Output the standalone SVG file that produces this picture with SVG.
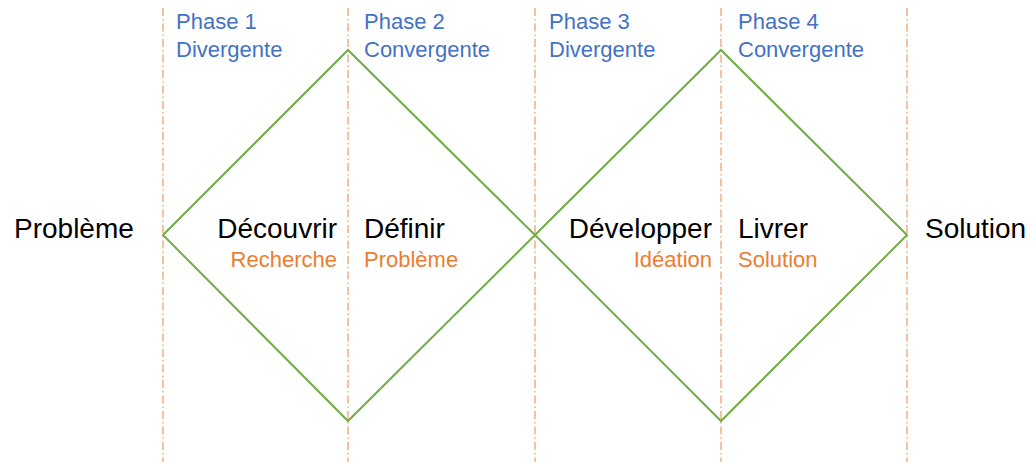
<svg xmlns="http://www.w3.org/2000/svg" width="1036" height="462" viewBox="0 0 1036 462">
<style>
.guide{stroke:#F2A06A;stroke-width:1.3;stroke-dasharray:8 3 1.5 3;fill:none}
.dia{stroke:#70AD47;stroke-width:2;fill:none;stroke-linejoin:miter}
text{font-family:"Liberation Sans",Arial,sans-serif}
.ph{fill:#4472C4;font-size:22px}
.lbl{fill:#000;font-size:28px}
.sub{fill:#ED7D31;font-size:22px}
.end{text-anchor:end}
</style>
<rect width="1036" height="462" fill="#fff"/>
<g id="guides">
<line class="guide" x1="163" y1="8" x2="163" y2="462"/>
<line class="guide" x1="348" y1="8" x2="348" y2="462"/>
<line class="guide" x1="535" y1="8" x2="535" y2="462"/>
<line class="guide" x1="721" y1="8" x2="721" y2="462"/>
<line class="guide" x1="907" y1="8" x2="907" y2="462"/>
</g>
<g id="connectors">
<polygon class="dia" points="163,235 348,50 535,235 348,421"/>
<polygon class="dia" points="535,235 721,50 907,235 721,421"/>
</g>
<g id="phase1"><text class="ph" x="176" y="29">Phase 1</text><text class="ph" x="176" y="57">Divergente</text></g>
<g id="phase2"><text class="ph" x="364" y="29">Phase 2</text><text class="ph" x="364" y="57">Convergente</text></g>
<g id="phase3"><text class="ph" x="549" y="29">Phase 3</text><text class="ph" x="549" y="57">Divergente</text></g>
<g id="phase4"><text class="ph" x="738" y="29">Phase 4</text><text class="ph" x="738" y="57">Convergente</text></g>
<g id="probleme"><text class="lbl" x="14" y="238">Problème</text></g>
<g id="decouvrir"><text class="lbl end" x="337" y="238">Découvrir</text><text class="sub end" x="337" y="267">Recherche</text></g>
<g id="definir"><text class="lbl" x="364" y="238">Définir</text><text class="sub" x="364" y="267">Problème</text></g>
<g id="developper"><text class="lbl end" x="712" y="238">Développer</text><text class="sub end" x="712" y="267">Idéation</text></g>
<g id="livrer"><text class="lbl" x="738" y="238">Livrer</text><text class="sub" x="738" y="267">Solution</text></g>
<g id="solution"><text class="lbl" x="925" y="238">Solution</text></g>
</svg>
